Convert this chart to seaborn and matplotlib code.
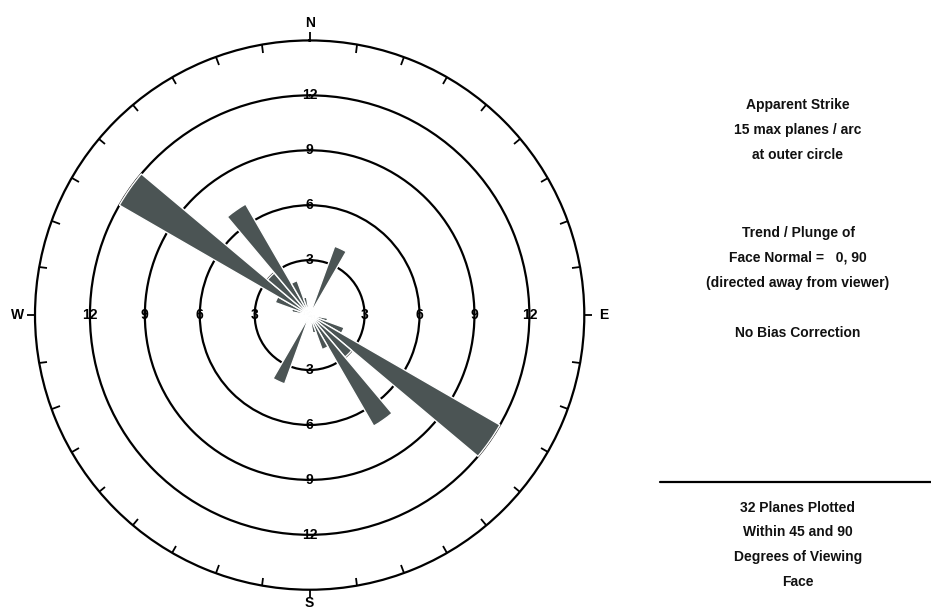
import numpy as np
import matplotlib
matplotlib.use("Agg")
from matplotlib import pyplot as plt
import seaborn as sns

# strike bins (10 degree arcs, 0-180; rose is mirrored to 180-360)
bin_starts = [0, 10, 20, 30, 40, 50, 60, 70, 80, 90, 100, 110, 120, 130, 140, 150, 160, 170]
plane_counts = [0, 0, 4, 0, 0, 0, 0, 0, 0, 0, 1, 2, 12, 3, 7, 2, 1, 0]
ring_values = [3, 6, 9, 12]
max_planes = 15
cardinal_labels = ['N', 'E', 'S', 'W']

info_top = ['Apparent Strike', '15 max planes / arc', 'at outer circle']
info_mid = ['Trend / Plunge of', 'Face Normal =   0, 90', '(directed away from viewer)']
info_bias = 'No Bias Correction'
info_bottom = ['32 Planes Plotted', 'Within 45 and 90', 'Degrees of Viewing', 'Face']

sns.set_theme(style='white')
plt.rcParams['font.family'] = ['Liberation Sans', 'DejaVu Sans']

fig = plt.figure(figsize=(9.31, 6.13), dpi=100)
ax = fig.add_axes([0.0376, 0.0375, 0.590, 0.897], projection='polar')
ax.set_theta_zero_location('N')
ax.set_theta_direction(-1)

petal_color = '#4b5454'
angles = np.array(bin_starts + [b + 180 for b in bin_starts]) + 5
counts = plane_counts + plane_counts
ax.bar(np.radians(angles), counts, width=np.radians(10), bottom=0,
       color=petal_color, edgecolor='white', linewidth=1.0, zorder=3)

ax.set_ylim(0, max_planes)
ax.set_yticks(ring_values)
ax.set_yticklabels([])
ax.yaxis.grid(True, color='black', linewidth=1.6)
ax.xaxis.grid(False)
ax.spines['polar'].set_color('black')
ax.spines['polar'].set_linewidth(1.6)

# inward ticks every 10 deg, outward ticks at the cardinal points
other = [a for a in range(0, 360, 10) if a % 90 != 0]
ax.set_xticks(np.radians(other))
ax.set_xticklabels([])
ax.set_xticks(np.radians([0, 90, 180, 270]), minor=True)
ax.set_xticklabels([], minor=True)
ax.tick_params(axis='x', which='major', direction='in', length=6, width=1.3,
               color='black', bottom=False, top=True)
ax.tick_params(axis='x', which='minor', direction='out', length=6, width=1.3,
               color='black', bottom=False, top=True)

offsets = {'N': (0, 17), 'E': (19, 0), 'S': (0, -13), 'W': (-17, 0)}
for t, lab in zip([0, 90, 180, 270], cardinal_labels):
    ax.annotate(lab, xy=(np.radians(t), max_planes), xytext=offsets[lab],
                textcoords='offset pixels', ha='center', va='center',
                fontsize=10, fontweight='bold', color='black', annotation_clip=False)

for r in ring_values:
    for t in [0, 90, 180, 270]:
        ax.text(np.radians(t), r, str(r), ha='center', va='center',
                fontsize=10, fontweight='bold', color='black', zorder=4)

x_txt = 798 / 931
def put_lines(lines, y_px, step=25):
    for i, s in enumerate(lines):
        fig.text(x_txt, 1 - (y_px + i * step) / 613, s, ha='center', va='center',
                 fontsize=10, fontweight='bold', color='#111111')

put_lines(info_top, 105)
put_lines(info_mid, 233)
put_lines([info_bias], 333)
put_lines(info_bottom, 508, step=24.5)

fig.add_artist(plt.Line2D([660 / 931, 1.0], [1 - 482 / 613, 1 - 482 / 613],
                          transform=fig.transFigure, color='black', linewidth=1.6))

fig.savefig('out.png', dpi=100, facecolor='white')
